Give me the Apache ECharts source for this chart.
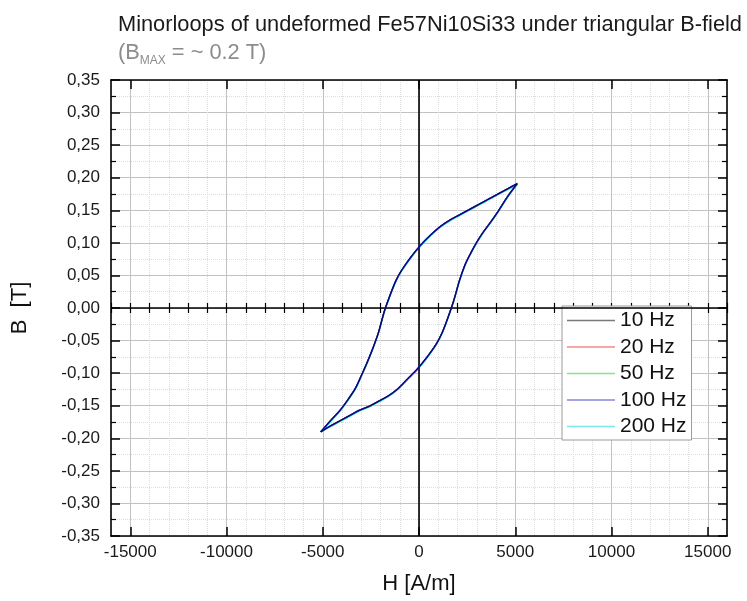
<!DOCTYPE html>
<html><head><meta charset="utf-8">
<script src="https://cdn.jsdelivr.net/npm/echarts@6/dist/echarts.min.js"></script>
<style>html,body{margin:0;padding:0;background:#fff}#c{width:747px;height:601px}</style>
</head><body><div id="c"></div><script>
// ---- data ----
const seriesNames = ['10 Hz', '20 Hz', '50 Hz', '100 Hz', '200 Hz'];
const xTickValues = [-15000, -10000, -5000, 0, 5000, 10000, 15000];
const yTickValues = [-0.35, -0.30, -0.25, -0.20, -0.15, -0.10, -0.05, 0, 0.05, 0.10, 0.15, 0.20, 0.25, 0.30, 0.35];
// H [A/m] of the descending (upper) and ascending (lower) branches
const hUpper = [5100, 4600, 4100, 3600, 3100, 2600, 2100, 1600, 1100, 600, 100, -400, -900, -1200, -1500, -1800, -2100, -2400, -2700, -3000, -3300, -3700, -4100, -4600, -5100];
const hLower = [-5100, -4600, -4100, -3600, -3100, -2600, -2100, -1600, -1100, -600, -100, 400, 900, 1200, 1500, 1800, 2100, 2400, 2700, 3000, 3300, 3700, 4100, 4600, 5100];
// B [T]
const b10HzUpper = [0.191, 0.183, 0.175, 0.167, 0.159, 0.151, 0.143, 0.135, 0.125, 0.112, 0.097, 0.079, 0.058, 0.042, 0.020, -0.005, -0.037, -0.062, -0.084, -0.104, -0.123, -0.141, -0.157, -0.173, -0.190];
const b10HzLower = [-0.190, -0.181, -0.173, -0.165, -0.157, -0.151, -0.143, -0.135, -0.124, -0.109, -0.094, -0.076, -0.055, -0.038, -0.015, 0.011, 0.042, 0.067, 0.085, 0.101, 0.115, 0.131, 0.148, 0.171, 0.191];
const b20HzUpper = [0.191, 0.183, 0.175, 0.167, 0.159, 0.151, 0.143, 0.135, 0.125, 0.112, 0.097, 0.079, 0.058, 0.042, 0.020, -0.005, -0.037, -0.062, -0.084, -0.104, -0.123, -0.141, -0.157, -0.173, -0.190];
const b20HzLower = [-0.190, -0.181, -0.173, -0.165, -0.157, -0.151, -0.143, -0.135, -0.124, -0.109, -0.094, -0.076, -0.055, -0.038, -0.015, 0.011, 0.042, 0.067, 0.085, 0.101, 0.115, 0.131, 0.148, 0.171, 0.191];
const b50HzUpper = [0.190, 0.183, 0.175, 0.167, 0.159, 0.151, 0.143, 0.135, 0.125, 0.112, 0.097, 0.079, 0.058, 0.042, 0.020, -0.005, -0.037, -0.062, -0.084, -0.104, -0.123, -0.141, -0.157, -0.173, -0.190];
const b50HzLower = [-0.190, -0.181, -0.173, -0.165, -0.157, -0.151, -0.143, -0.135, -0.124, -0.109, -0.094, -0.076, -0.055, -0.038, -0.015, 0.011, 0.042, 0.067, 0.085, 0.101, 0.115, 0.131, 0.148, 0.171, 0.190];
const b100HzUpper = [0.191, 0.183, 0.175, 0.167, 0.159, 0.151, 0.143, 0.135, 0.125, 0.112, 0.097, 0.079, 0.058, 0.042, 0.020, -0.005, -0.037, -0.062, -0.084, -0.104, -0.123, -0.141, -0.157, -0.173, -0.190];
const b100HzLower = [-0.190, -0.181, -0.173, -0.165, -0.157, -0.151, -0.143, -0.135, -0.124, -0.109, -0.094, -0.076, -0.055, -0.038, -0.015, 0.011, 0.042, 0.067, 0.085, 0.101, 0.115, 0.131, 0.148, 0.171, 0.191];
const b200HzUpper = [0.190, 0.182, 0.174, 0.166, 0.158, 0.150, 0.142, 0.134, 0.124, 0.111, 0.096, 0.078, 0.057, 0.041, 0.019, -0.006, -0.038, -0.063, -0.085, -0.105, -0.124, -0.142, -0.158, -0.174, -0.190];
const b200HzLower = [-0.190, -0.182, -0.174, -0.166, -0.158, -0.152, -0.144, -0.136, -0.125, -0.110, -0.095, -0.077, -0.056, -0.039, -0.016, 0.010, 0.041, 0.066, 0.084, 0.100, 0.114, 0.130, 0.147, 0.170, 0.190];
const seriesUpper = [b10HzUpper, b20HzUpper, b50HzUpper, b100HzUpper, b200HzUpper];
const seriesLower = [b10HzLower, b20HzLower, b50HzLower, b100HzLower, b200HzLower];

// ---- styles ----
const seriesColors = ['#000000', '#ff0000', '#00d000', '#1a1aff', '#00e0e0'];
const legendColors = ['#7a7a7a', '#f08a8a', '#86e486', '#8686d6', '#7ee6e6'];
const seriesWidth = [0.7, 1.2, 1.3, 1.5, 1.6];
const seriesZ = [6, 4, 3, 5, 2];

const FONT = 'Liberation Sans, Arial, sans-serif';
const chart = echarts.init(document.getElementById('c'), null, {renderer: 'canvas'});
const pair = (h, b) => h.map((v, i) => [v, b[i]]);
const fmtY = v => { if (Math.abs(v) < 1e-9) v = 0; return v.toFixed(2).replace('.', ','); };

const series = [];
seriesNames.forEach((name, i) => {
  [seriesUpper[i], seriesLower[i]].forEach((b, k) => {
    series.push({
      name: name,
      type: 'line',
      xAxisIndex: 2,
      yAxisIndex: 0,
      data: pair(k === 0 ? hUpper : hLower, b),
      showSymbol: false,
      symbol: 'none',
      smooth: 0.3,
      z: seriesZ[i],
      lineStyle: {color: seriesColors[i], width: seriesWidth[i]},
      itemStyle: {color: seriesColors[i]},
      emphasis: {disabled: true},
      silent: true
    });
  });
});
series[0].markLine = {
  silent: true, symbol: 'none', animation: false,
  label: {show: false},
  lineStyle: {color: '#000', width: 1.6, type: 'solid'},
  data: [{xAxis: 0}, {yAxis: 0}]
};

const option = {
  animation: false,
  backgroundColor: '#ffffff',
  textStyle: {fontFamily: FONT},
  title: {
    left: 113, top: 6,
    text: '{main|Minorloops of undeformed Fe57Ni10Si33 under triangular B-field}\n{sub|(B}{subs|MAX}{sub| = ~ 0.2 T)}',
    textStyle: {
      fontWeight: 'normal',
      rich: {
        main: {fontSize: 21.8, fontWeight: 'normal', color: '#1a1a1a', fontFamily: FONT, lineHeight: 28},
        sub: {fontSize: 21.8, fontWeight: 'normal', color: '#8c8c8c', fontFamily: FONT, lineHeight: 28},
        subs: {fontSize: 12, fontWeight: 'normal', color: '#8c8c8c', fontFamily: FONT, lineHeight: 12, verticalAlign: 'bottom'}
      }
    }
  },
  legend: {
    left: 562, top: 306,
    orient: 'vertical',
    data: seriesNames.map((n, i) => ({name: n, itemStyle: {color: legendColors[i]}})),
    icon: 'rect',
    backgroundColor: '#ffffff',
    borderColor: '#9a9a9a', borderWidth: 1,
    padding: [4, 5, 3, 5],
    itemWidth: 48, itemHeight: 1.5, itemGap: 5.5,
    textStyle: {fontSize: 21, color: '#111', fontFamily: FONT},
    selectedMode: false
  },
  grid: {left: 111, right: 20, top: 80, bottom: 65, containLabel: false},
  xAxis: [
    { // minor grid / ticks bottom
      type: 'value', position: 'bottom', min: -16000, max: 16000, interval: 1000,
      axisLine: {show: false}, axisLabel: {show: false},
      axisTick: {show: true, inside: true, length: 5, lineStyle: {color: '#000', width: 1.2}},
      splitLine: {show: true, lineStyle: {color: '#dcdcdc', type: 'dotted', width: 1}}
    },
    { // minor ticks top
      type: 'value', position: 'top', min: -16000, max: 16000, interval: 1000,
      axisLine: {show: false}, axisLabel: {show: false},
      axisTick: {show: true, inside: true, length: 5, lineStyle: {color: '#000', width: 1.2}},
      splitLine: {show: false}
    },
    { // main bottom axis
      type: 'value', position: 'bottom', min: -16000, max: 16000,
      name: 'H [A/m]', nameLocation: 'middle', nameGap: 37,
      nameTextStyle: {fontSize: 22, color: '#111', fontFamily: FONT},
      axisLine: {show: true, onZero: false, lineStyle: {color: '#000', width: 1.6}},
      axisTick: {show: true, inside: true, length: 9, customValues: xTickValues, lineStyle: {color: '#000', width: 1.5}},
      axisLabel: {show: true, customValues: xTickValues, formatter: v => String(v), fontSize: 17, color: '#1a1a1a', margin: 8, fontFamily: FONT},
      splitLine: {show: true, lineStyle: {color: '#c2c2c2', width: 1}}
    },
    { // main top axis (frame)
      type: 'value', position: 'top', min: -16000, max: 16000,
      axisLine: {show: true, onZero: false, lineStyle: {color: '#000', width: 1.6}},
      axisTick: {show: true, inside: true, length: 9, customValues: xTickValues, lineStyle: {color: '#000', width: 1.5}},
      axisLabel: {show: false},
      splitLine: {show: false}
    }
  ],
  yAxis: [
    {
      type: 'value', position: 'left', min: -0.35, max: 0.35, interval: 0.05,
      name: 'B  [T]', nameLocation: 'middle', nameGap: 80, nameRotate: 90,
      nameTextStyle: {fontSize: 22, color: '#111', fontFamily: FONT},
      axisLine: {show: true, onZero: false, lineStyle: {color: '#000', width: 1.6}},
      axisTick: {show: true, inside: true, length: 9, lineStyle: {color: '#000', width: 1.5}},
      minorTick: {show: true, splitNumber: 2, length: 5, lineStyle: {color: '#000', width: 1.2}},
      axisLabel: {show: true, fontSize: 17, color: '#1a1a1a', margin: 11, formatter: fmtY, fontFamily: FONT},
      splitLine: {show: true, lineStyle: {color: '#c2c2c2', width: 1}},
      minorSplitLine: {show: true, lineStyle: {color: '#dcdcdc', type: 'dotted', width: 1}}
    },
    {
      type: 'value', position: 'right', min: -0.35, max: 0.35, interval: 0.05,
      axisLine: {show: true, onZero: false, lineStyle: {color: '#000', width: 1.6}},
      axisTick: {show: true, inside: true, length: 9, lineStyle: {color: '#000', width: 1.5}},
      minorTick: {show: true, splitNumber: 2, length: 5, lineStyle: {color: '#000', width: 1.2}},
      axisLabel: {show: false},
      splitLine: {show: false}
    }
  ],
  series: series
};
chart.setOption(option);
</script></body></html>
